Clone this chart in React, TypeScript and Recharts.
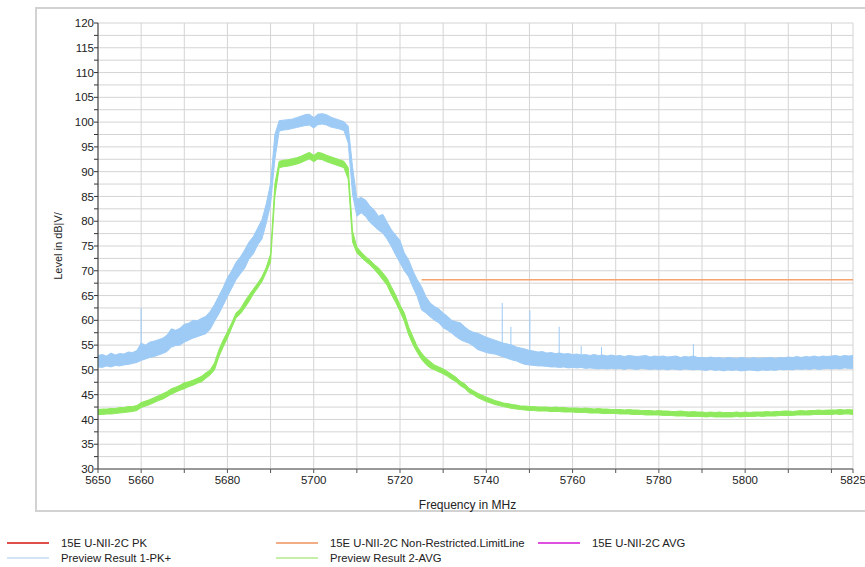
import React from 'react';
import { ComposedChart, Area, Line, XAxis, YAxis, CartesianGrid, ReferenceLine } from 'recharts';

// Sweep: 5650 MHz .. 5825 MHz, 1 MHz per sample
const FREQ_START = 5650;
const FREQ_STEP = 1;

// Preview Result 1-PK+ (noise envelope, lower / upper edge, dBµV/m)
const pkLo = [
  50.6, 50.5, 50.8, 50.6, 50.9, 50.8, 51.0, 51.1, 51.3, 51.5,
  51.9, 52.2, 52.5, 52.7, 53.0, 53.3, 53.7, 54.6, 54.9, 55.0,
  55.6, 56.0, 56.4, 56.7, 57.0, 57.3, 58.2, 59.8, 61.3, 63.0,
  64.8, 66.5, 68.2, 69.4, 70.5, 72.4, 73.4, 75.2, 76.4, 79.6,
  83.4, 92.5, 98.2, 98.4, 98.5, 98.7, 98.9, 99.1, 99.3, 99.4,
  98.8, 99.5, 99.6, 99.4, 99.0, 98.8, 98.6, 98.3, 95.8, 85.5,
  81.0, 81.7, 81.0, 79.8, 79.0, 78.2, 77.6, 76.4, 74.9, 73.2,
  71.6, 70.0, 68.8, 66.7, 64.8, 62.1, 61.5, 60.7, 60.0, 59.5,
  58.5, 58.0, 57.4, 56.7, 56.1, 55.7, 55.4, 54.8, 54.1, 53.8,
  53.5, 53.3, 53.2, 52.9, 52.6, 52.3, 52.0, 51.8, 51.4, 51.1,
  51.0, 50.9, 50.8, 50.8, 50.7, 50.6, 50.6, 50.5, 50.6, 50.4,
  50.5, 50.4, 50.5, 50.3, 50.4, 50.3, 50.2, 50.3, 50.2, 50.3,
  50.2, 50.3, 50.1, 50.3, 50.2, 50.1, 50.3, 50.2, 50.1, 50.2,
  50.1, 50.2, 50.0, 50.2, 50.1, 50.0, 50.2, 50.1, 50.0, 50.1,
  50.0, 49.9, 50.1, 49.9, 50.0, 49.8, 50.0, 49.9, 50.0, 49.8,
  49.9, 50.0, 49.9, 49.8, 50.0, 49.9, 50.0, 49.9, 50.1, 50.0,
  50.1, 50.0, 50.2, 50.1, 50.2, 50.1, 50.3, 50.1, 50.2, 50.3,
  50.2, 50.3, 50.2, 50.4, 50.3, 50.3,
];
const pkHi = [
  52.9, 53.1, 52.8, 53.4, 53.0, 53.3, 53.2, 53.6, 53.5, 53.9,
  55.4, 55.0, 55.6, 55.8, 56.1, 56.4, 57.0, 58.3, 58.0, 58.4,
  59.2, 59.4, 60.0, 59.9, 60.4, 60.8, 61.8, 63.2, 64.9, 66.6,
  68.6, 70.0, 71.7, 72.8, 74.2, 75.8, 76.9, 78.6, 80.3, 83.5,
  87.6, 97.5, 100.3, 100.4, 100.5, 100.6, 100.9, 101.2, 101.5, 101.6,
  100.9, 101.6, 101.7, 101.5, 101.0, 100.7, 100.4, 100.1, 99.2, 91.0,
  84.5, 84.8, 84.3, 83.1, 82.3, 81.0, 81.4, 79.8, 78.3, 77.2,
  76.1, 73.6, 72.2, 70.0, 68.2, 66.8, 64.8, 63.5, 62.8, 62.3,
  61.5, 60.8, 60.0, 59.7, 59.5, 58.7, 58.0, 57.6, 57.4, 57.0,
  56.6, 56.3, 56.0, 55.7, 55.4, 55.2, 55.0, 54.6, 54.4, 54.2,
  53.9, 53.8, 53.6, 53.7, 53.4, 53.5, 53.3, 53.4, 53.2, 53.3,
  53.1, 53.2, 53.0, 53.1, 52.9, 53.1, 52.9, 53.0, 52.8, 53.0,
  52.8, 52.9, 52.7, 52.9, 52.8, 52.7, 52.8, 52.9, 52.6, 52.8,
  52.7, 52.8, 52.6, 52.7, 52.8, 52.5, 52.7, 52.6, 52.8, 52.5,
  52.5, 52.4, 52.6, 52.4, 52.5, 52.3, 52.5, 52.4, 52.3, 52.5,
  52.4, 52.3, 52.5, 52.3, 52.4, 52.4, 52.5, 52.3, 52.5, 52.4,
  52.6, 52.5, 52.7, 52.5, 52.7, 52.6, 52.8, 52.6, 52.8, 52.7,
  52.8, 52.9, 52.7, 52.9, 52.8, 52.9,
];

// Preview Result 2-AVG (lower / upper edge)
const avLo = [
  41.0, 41.0, 41.1, 41.1, 41.2, 41.3, 41.4, 41.5, 41.6, 41.8,
  42.4, 42.7, 43.0, 43.4, 43.8, 44.1, 44.6, 45.1, 45.5, 45.9,
  46.2, 46.6, 46.9, 47.3, 47.6, 48.3, 49.0, 50.0, 52.6, 54.6,
  56.4, 58.5, 60.5, 61.3, 62.5, 63.8, 65.3, 66.5, 67.8, 69.7,
  71.8, 85.0, 90.8, 91.0, 91.1, 91.3, 91.5, 91.8, 92.2, 92.6,
  92.0, 92.6, 92.4, 92.0, 91.7, 91.4, 91.1, 90.8, 88.5, 75.8,
  73.6, 72.7, 71.9, 71.2, 70.3, 69.3, 68.2, 67.1, 65.2, 63.6,
  61.8, 59.8, 57.1, 55.1, 53.5, 52.1, 51.1, 50.4, 50.0, 49.6,
  49.2, 48.7, 48.1, 47.6, 46.8, 46.3, 45.4, 45.0, 44.4, 44.0,
  43.6, 43.3, 43.0, 42.8, 42.6, 42.4, 42.2, 42.1, 42.0, 41.9,
  41.8, 41.8, 41.7, 41.7, 41.7, 41.6, 41.6, 41.6, 41.5, 41.5,
  41.5, 41.4, 41.4, 41.4, 41.3, 41.3, 41.3, 41.2, 41.2, 41.2,
  41.2, 41.1, 41.1, 41.1, 41.0, 41.0, 41.0, 40.9, 40.9, 40.9,
  40.9, 40.8, 40.8, 40.8, 40.7, 40.7, 40.7, 40.6, 40.6, 40.6,
  40.6, 40.5, 40.6, 40.5, 40.5, 40.5, 40.5, 40.5, 40.6, 40.5,
  40.6, 40.6, 40.6, 40.7, 40.6, 40.7, 40.7, 40.7, 40.8, 40.8,
  40.8, 40.8, 40.9, 40.9, 40.9, 40.9, 41.0, 41.0, 41.0, 41.0,
  41.0, 41.1, 41.0, 41.1, 41.1, 41.0,
];
const avHi = [
  42.0, 42.1, 42.1, 42.2, 42.2, 42.4, 42.4, 42.6, 42.6, 42.8,
  43.4, 43.7, 44.0, 44.4, 44.8, 45.2, 45.6, 46.2, 46.5, 46.9,
  47.4, 47.6, 47.9, 48.3, 48.7, 49.4, 50.0, 51.4, 54.0, 56.0,
  57.7, 59.5, 61.5, 62.3, 63.8, 65.1, 66.3, 67.5, 68.8, 70.7,
  73.4, 87.5, 92.1, 92.3, 92.4, 92.6, 92.8, 93.1, 93.5, 93.9,
  93.3, 93.9, 93.7, 93.3, 93.0, 92.7, 92.4, 92.1, 90.8, 78.0,
  74.8, 73.8, 72.9, 72.2, 71.3, 70.6, 69.6, 68.5, 66.8, 65.1,
  63.1, 61.5, 58.7, 56.7, 54.7, 53.4, 52.4, 51.7, 51.0, 50.6,
  50.2, 49.7, 49.1, 48.5, 47.7, 47.2, 46.3, 45.8, 45.3, 44.9,
  44.5, 44.2, 43.8, 43.6, 43.3, 43.2, 43.0, 42.9, 42.7, 42.7,
  42.6, 42.6, 42.5, 42.5, 42.5, 42.4, 42.5, 42.4, 42.4, 42.3,
  42.3, 42.3, 42.2, 42.3, 42.2, 42.1, 42.2, 42.1, 42.1, 42.0,
  42.0, 42.0, 41.9, 42.0, 41.9, 41.9, 41.8, 41.8, 41.8, 41.7,
  41.8, 41.7, 41.7, 41.6, 41.6, 41.7, 41.6, 41.5, 41.6, 41.5,
  41.5, 41.4, 41.5, 41.4, 41.5, 41.4, 41.4, 41.4, 41.5, 41.4,
  41.5, 41.4, 41.5, 41.5, 41.5, 41.6, 41.5, 41.6, 41.6, 41.7,
  41.7, 41.6, 41.7, 41.8, 41.7, 41.8, 41.8, 41.9, 41.8, 41.9,
  41.9, 41.9, 42.0, 41.9, 42.0, 41.9,
];

// Isolated peak-detector spikes on the PK+ trace
const spikeFreq = [5660, 5743.7, 5745.7, 5750.1, 5756.9, 5762, 5766.7, 5788];
const spikeBase = [55.0, 55.5, 55.0, 53.8, 53.3, 53.0, 52.8, 52.7];
const spikeTop = [62.5, 63.5, 58.7, 62.0, 58.7, 54.8, 54.6, 55.2];

// 15E U-NII-2C Non-Restricted limit line
const limitStart = 5725;
const limitLevel = 68.2;

// Axis ticks
const xTicks = [5650, 5660, 5670, 5680, 5690, 5700, 5710, 5720, 5730, 5740, 5750, 5760, 5770, 5780, 5790, 5800, 5810, 5820, 5825];
const xLabelled = [5650, 5660, 5680, 5700, 5720, 5740, 5760, 5780, 5800, 5825];
const yTicks = [30, 32.5, 35, 37.5, 40, 42.5, 45, 47.5, 50, 52.5, 55, 57.5, 60, 62.5, 65, 67.5, 70, 72.5, 75, 77.5, 80, 82.5, 85, 87.5, 90, 92.5, 95, 97.5, 100, 102.5, 105, 107.5, 110, 112.5, 115, 117.5, 120];

const legendRow1 = [
  { name: '15E U-NII-2C PK', color: '#e0504a', x: 7 },
  { name: '15E U-NII-2C Non-Restricted.LimitLine', color: '#f3ad86', x: 276 },
  { name: '15E U-NII-2C AVG', color: '#e050e0', x: 538 },
];
const legendRow2 = [
  { name: 'Preview Result 1-PK+', color: '#d3e4f4', x: 7 },
  { name: 'Preview Result 2-AVG', color: '#c6efa8', x: 276 },
];

const rows = pkLo.map((_, i) => {
  const f = FREQ_START + i * FREQ_STEP;
  return {
    f,
    pk: [pkLo[i], pkHi[i]],
    av: [avLo[i], avHi[i]],
    limit: f >= limitStart ? limitLevel : null,
  };
});

const FONT = 'Arial, "Liberation Sans", sans-serif';
const BLUE = '#9dcbf6';
const GREEN = '#8eea5c';

function LegendRow({ items, top }: { items: typeof legendRow1; top: number }) {
  return (
    <>
      {items.map((it) => (
        <div key={it.name} style={{ position: 'absolute', left: it.x, top, height: 14, display: 'flex', alignItems: 'center' }}>
          <div style={{ width: 42, height: 1.5, background: it.color }} />
          <span style={{ marginLeft: 12, fontSize: 11.3, color: '#222', whiteSpace: 'nowrap', fontFamily: FONT }}>{it.name}</span>
        </div>
      ))}
    </>
  );
}

export default function App() {
  return (
    <div style={{ position: 'absolute', left: 0, top: 0, width: 865, height: 567, background: '#fff', overflow: 'hidden', fontFamily: FONT }}>
      <div style={{ position: 'absolute', left: 35, top: 7, width: 850, height: 505, border: '2px solid #d2d2d2', boxSizing: 'border-box' }} />
      <div style={{ position: 'absolute', left: 0, top: 0 }}>
        <ComposedChart width={865} height={567} data={rows} margin={{ top: 23, right: 12, bottom: 58, left: 38 }}>
          <CartesianGrid stroke="#d4d4d4" strokeWidth={1} />
          <XAxis
            dataKey="f"
            type="number"
            domain={[5650, 5825]}
            ticks={xTicks}
            interval={0}
            allowDataOverflow
            height={40}
            tickFormatter={(v: number) => (xLabelled.includes(v) ? String(v) : '')}
            tick={{ fontSize: 11.5, fill: '#222', fontFamily: FONT }}
            tickSize={4}
            tickMargin={3}
            axisLine={{ stroke: '#999', strokeWidth: 2 }}
            tickLine={{ stroke: '#555' }}
            label={{ value: 'Frequency in MHz', position: 'insideBottom', offset: 0, dx: -8, fontSize: 12, fill: '#222', fontFamily: FONT }}
          />
          <YAxis
            type="number"
            domain={[30, 120]}
            ticks={yTicks}
            interval={0}
            allowDataOverflow
            width={60}
            tickFormatter={(v: number) => (v % 5 === 0 ? String(v) : '')}
            tick={{ fontSize: 11.5, fill: '#222', fontFamily: FONT }}
            tickSize={4}
            tickMargin={0}
            axisLine={{ stroke: '#333' }}
            tickLine={{ stroke: '#333' }}
            label={{ value: 'Level in dB|V/', angle: -90, position: 'center', dx: -10, fontSize: 11, fill: '#222', fontFamily: FONT }}
          />
          <Area type="linear" dataKey="pk" stroke={BLUE} strokeWidth={1} fill={BLUE} fillOpacity={1} dot={false} activeDot={false} isAnimationActive={false} />
          <Area type="linear" dataKey="av" stroke={GREEN} strokeWidth={1} fill={GREEN} fillOpacity={1} dot={false} activeDot={false} isAnimationActive={false} />
          {spikeFreq.map((f, i) => (
            <ReferenceLine key={f} segment={[{ x: f, y: spikeBase[i] }, { x: f, y: spikeTop[i] }]} stroke={BLUE} strokeWidth={1} />
          ))}
          <Line type="linear" dataKey="limit" stroke="#f5a46e" strokeWidth={1.5} dot={false} activeDot={false} connectNulls={false} isAnimationActive={false} />
        </ComposedChart>
      </div>
      <LegendRow items={legendRow1} top={536} />
      <LegendRow items={legendRow2} top={551} />
    </div>
  );
}
